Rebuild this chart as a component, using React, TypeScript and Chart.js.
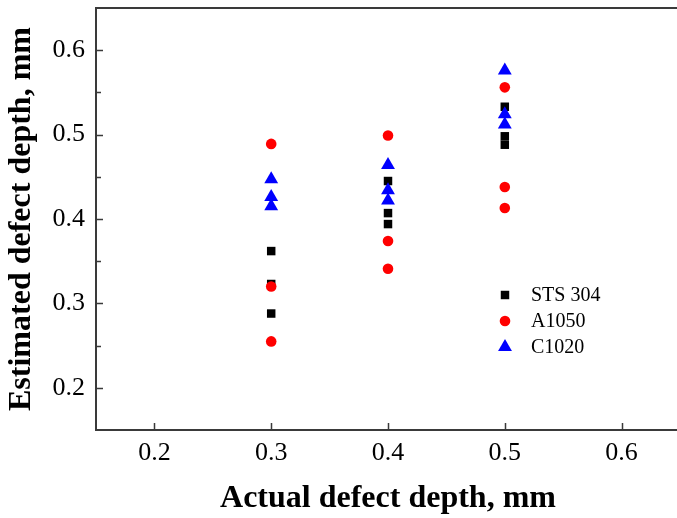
import React, { useEffect, useRef } from "react";
import { Chart, registerables } from "chart.js";

Chart.register(...registerables);

const xTicks = [0.2, 0.3, 0.4, 0.5, 0.6];
const yTicks = [0.2, 0.3, 0.4, 0.5, 0.6];
const yMinorTicks = [0.15, 0.25, 0.35, 0.45, 0.55, 0.65];

const stsX = [0.3, 0.3, 0.3, 0.4, 0.4, 0.4, 0.5, 0.5, 0.5];
const stsY = [0.362, 0.323, 0.288, 0.445, 0.407, 0.394, 0.533, 0.498, 0.488];

const a1050X = [0.3, 0.3, 0.3, 0.4, 0.4, 0.4, 0.5, 0.5, 0.5];
const a1050Y = [0.489, 0.32, 0.255, 0.499, 0.374, 0.341, 0.556, 0.438, 0.413];

const c1020X = [0.3, 0.3, 0.3, 0.4, 0.4, 0.4, 0.5, 0.5, 0.5];
const c1020Y = [0.447, 0.426, 0.415, 0.464, 0.434, 0.422, 0.576, 0.524, 0.512];

const seriesNames = ["STS 304", "A1050", "C1020"];

const FONT = "'Liberation Serif', 'Times New Roman', serif";
const AXIS_COLOR = "#3a3a3a";

const pts = (xs: number[], ys: number[]) => xs.map((x, i) => ({ x, y: ys[i] }));

const boxPlugin = {
  id: "boxTicksLegend",
  afterDraw(chart: any) {
    const ctx = chart.ctx;
    const { left, right, top, bottom } = chart.chartArea;
    const xs = chart.scales.x;
    const ys = chart.scales.y;
    ctx.save();
    ctx.strokeStyle = AXIS_COLOR;
    ctx.lineWidth = 2;
    ctx.strokeRect(left, top, right - left, bottom - top);
    ctx.lineWidth = 1.5;
    ctx.beginPath();
    xTicks.forEach((v) => {
      const px = Math.round(xs.getPixelForValue(v)) + 0.5;
      ctx.moveTo(px, bottom);
      ctx.lineTo(px, bottom - 7);
    });
    yTicks.forEach((v) => {
      const py = Math.round(ys.getPixelForValue(v)) + 0.5;
      ctx.moveTo(left, py);
      ctx.lineTo(left + 7, py);
    });
    yMinorTicks.forEach((v) => {
      const py = Math.round(ys.getPixelForValue(v)) + 0.5;
      if (py > top + 2 && py < bottom - 2) {
        ctx.moveTo(left, py);
        ctx.lineTo(left + 5, py);
      }
    });
    ctx.stroke();

    // legend
    const lx = 505;
    const tx = 531;
    const rows = [295, 321, 347];
    chart.data.datasets.forEach((ds: any, i: number) => {
      const y = rows[i];
      ctx.fillStyle = ds.backgroundColor;
      const style = ds.pointStyle;
      const r = ds.pointRadius;
      ctx.beginPath();
      if (style === "rect") {
        const s = Math.SQRT1_2 * r;
        ctx.rect(lx - s, y - s, 2 * s, 2 * s);
      } else if (style === "circle") {
        ctx.arc(lx, y, r, 0, Math.PI * 2);
      } else {
        ctx.moveTo(lx, y - r);
        ctx.lineTo(lx + Math.sin((2 * Math.PI) / 3) * r, y + r / 2);
        ctx.lineTo(lx - Math.sin((2 * Math.PI) / 3) * r, y + r / 2);
        ctx.closePath();
      }
      ctx.fill();
      ctx.fillStyle = "#000";
      ctx.font = `20px ${FONT}`;
      ctx.textBaseline = "middle";
      ctx.textAlign = "left";
      ctx.fillText(seriesNames[i], tx, y + 1);
    });
    ctx.restore();
  },
};

export default function App() {
  const ref = useRef<HTMLCanvasElement | null>(null);
  useEffect(() => {
    if (!ref.current) return;
    const chart = new Chart(ref.current, {
      type: "scatter",
      data: {
        datasets: [
          {
            label: seriesNames[0],
            data: pts(stsX, stsY),
            pointStyle: "rect",
            pointRadius: 6,
            backgroundColor: "#000000",
            borderColor: "#000000",
            borderWidth: 0,
            order: 3,
          },
          {
            label: seriesNames[1],
            data: pts(a1050X, a1050Y),
            pointStyle: "circle",
            pointRadius: 5.3,
            backgroundColor: "#ff0000",
            borderColor: "#ff0000",
            borderWidth: 0,
            order: 2,
          },
          {
            label: seriesNames[2],
            data: pts(c1020X, c1020Y),
            pointStyle: "triangle",
            pointRadius: 8,
            backgroundColor: "#0000ff",
            borderColor: "#0000ff",
            borderWidth: 0,
            order: 1,
          },
        ] as any,
      },
      options: {
        responsive: false,
        animation: false,
        devicePixelRatio: 1,
        layout: { padding: { top: -1, right: 10, left: 0, bottom: 0 } },
        plugins: {
          legend: { display: false },
          tooltip: { enabled: false },
        },
        scales: {
          x: {
            type: "linear",
            min: 0.15,
            max: 0.65,
            grid: { display: false, drawTicks: false },
            border: { display: false },
            afterBuildTicks: (s: any) => {
              s.ticks = xTicks.map((v) => ({ value: v }));
            },
            afterFit: (s: any) => {
              s.height = 88;
              s.paddingLeft = 0;
              s.paddingRight = 0;
            },
            ticks: {
              padding: 8,
              color: "#000",
              font: { family: FONT, size: 26 },
              callback: (v: any) => Number(v).toFixed(1),
              maxRotation: 0,
            },
            title: {
              display: true,
              text: "Actual defect depth, mm",
              color: "#000",
              font: { family: FONT, size: 32, weight: "bold" },
              padding: { top: 0, bottom: 0 },
            },
          },
          y: {
            type: "linear",
            min: 0.15,
            max: 0.65,
            grid: { display: false, drawTicks: false },
            border: { display: false },
            afterBuildTicks: (s: any) => {
              s.ticks = yTicks.map((v) => ({ value: v }));
            },
            afterFit: (s: any) => {
              s.width = 96;
              s.paddingTop = 0;
              s.paddingBottom = 0;
            },
            ticks: {
              padding: 11,
              color: "#000",
              font: { family: FONT, size: 26 },
              callback: (v: any) => Number(v).toFixed(1),
            },
            title: {
              display: true,
              text: "Estimated defect depth, mm",
              color: "#000",
              font: { family: FONT, size: 32, weight: "bold" },
              padding: { top: 3, bottom: 0 },
            },
          },
        },
      },
      plugins: [boxPlugin],
    });
    return () => chart.destroy();
  }, []);
  return (
    <div style={{ position: "fixed", left: 0, top: 0, width: 690, height: 518, background: "#fff" }}>
      <canvas ref={ref} width={690} height={518} style={{ display: "block" }} />
    </div>
  );
}
